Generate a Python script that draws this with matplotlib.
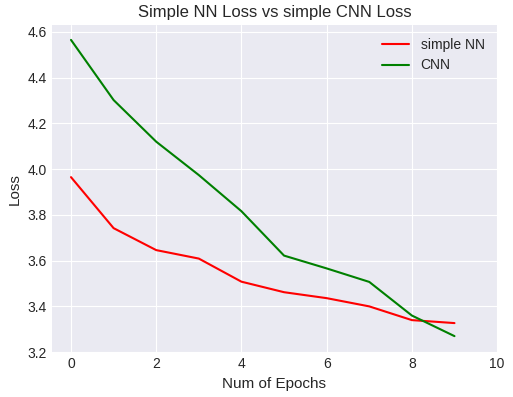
import matplotlib
matplotlib.use('Agg')
from matplotlib import pyplot as plt

epochs = [0, 1, 2, 3, 4, 5, 6, 7, 8, 9]
nn_loss = [3.965, 3.742, 3.646, 3.609, 3.508, 3.462, 3.436, 3.400, 3.340, 3.327]
cnn_loss = [4.565, 4.302, 4.120, 3.974, 3.816, 3.622, 3.566, 3.507, 3.360, 3.270]

plt.style.use('seaborn-v0_8-darkgrid')
plt.rcParams['font.family'] = ['Liberation Sans', 'DejaVu Sans']

fig = plt.figure(figsize=(5.13, 3.97), dpi=100)
ax = fig.add_axes([0.101, 0.113, 0.868, 0.824])

ax.plot(epochs, nn_loss, color='red', label='simple NN', linewidth=1.5)
ax.plot(epochs, cnn_loss, color='green', label='CNN', linewidth=1.5)

ax.set_xlim(-0.45, 10)
ax.set_ylim(3.2, 4.63)
ax.set_xticks([0, 2, 4, 6, 8, 10])
ax.set_yticks([3.2, 3.4, 3.6, 3.8, 4.0, 4.2, 4.4, 4.6])
ax.tick_params(labelsize=10)
ax.set_xlabel('Num of Epochs', fontsize=11)
ax.set_ylabel('Loss', fontsize=11)
ax.set_title('Simple NN Loss vs simple CNN Loss', fontsize=12)
ax.legend(fontsize=10)

fig.savefig('out.png')
